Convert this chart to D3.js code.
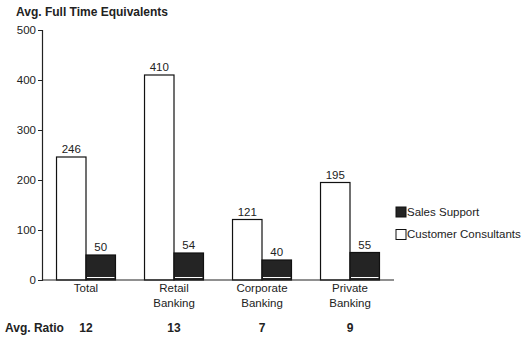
<!DOCTYPE html>
<html><head><meta charset="utf-8">
<script src="https://cdn.jsdelivr.net/npm/d3@7"></script>
<style>body{margin:0;background:#fff}svg{display:block;font-family:"Liberation Sans",Arial,sans-serif}</style>
</head><body>
<svg id="c" width="522" height="339"></svg>
<script>
const categories = [["Total"], ["Retail", "Banking"], ["Corporate", "Banking"], ["Private", "Banking"]];
const customerConsultants = [246, 410, 121, 195];
const salesSupport = [50, 54, 40, 55];
const avgRatio = [12, 13, 7, 9];
const yTicks = [0, 100, 200, 300, 400, 500];
const seriesNames = ["Sales Support", "Customer Consultants"];

const svg = d3.select("#c");
const keys = categories.map(c => c.join(" "));
const x = d3.scaleBand().domain(keys).range([42, 394]).paddingInner(0.33).paddingOuter(0.165);
const y = d3.scaleLinear().domain([0, 500]).range([280, 30]);
const bw = x.bandwidth() / 2;

svg.append("text").attr("x", 16).attr("y", 16).attr("font-size", 12).attr("font-weight", "bold").attr("fill", "#222").text("Avg. Full Time Equivalents");

// y axis
const ya = svg.append("g").attr("transform", "translate(42,0)")
  .call(d3.axisLeft(y).tickValues(yTicks).tickSize(4).tickPadding(2));
ya.select(".domain").attr("stroke", "#222").attr("stroke-width", 1.2);
ya.selectAll("text").attr("font-size", 11.5).attr("fill", "#222").attr("font-family", "Liberation Sans, Arial, sans-serif");
ya.selectAll("line").attr("stroke", "#222");

const g = svg.append("g");
keys.forEach((k, i) => {
  const x0 = x(k);
  g.append("rect").attr("x", x0).attr("y", y(customerConsultants[i])).attr("width", bw).attr("height", y(0) - y(customerConsultants[i]))
    .attr("fill", "#fff").attr("stroke", "#111").attr("stroke-width", 1.2);
  g.append("rect").attr("x", x0 + bw).attr("y", y(salesSupport[i])).attr("width", bw).attr("height", y(0) - y(salesSupport[i]))
    .attr("fill", "#242424").attr("stroke", "#111").attr("stroke-width", 1.2);
  g.append("line").attr("x1", x0 + bw + 1).attr("x2", x0 + 2 * bw - 1).attr("y1", y(0) - 2.5).attr("y2", y(0) - 2.5)
    .attr("stroke", "#fff").attr("stroke-width", 1);
  g.append("text").attr("x", x0 + bw / 2).attr("y", y(customerConsultants[i]) - 4).attr("text-anchor", "middle")
    .attr("font-size", 11.5).attr("fill", "#222").text(customerConsultants[i]);
  g.append("text").attr("x", x0 + bw * 1.5).attr("y", y(salesSupport[i]) - 4).attr("text-anchor", "middle")
    .attr("font-size", 11.5).attr("fill", "#222").text(salesSupport[i]);
  const t = g.append("text").attr("text-anchor", "middle").attr("font-size", 11.5).attr("fill", "#222");
  categories[i].forEach((line, j) => t.append("tspan").attr("x", x0 + bw).attr("y", 292 + j * 15).text(line));
  g.append("text").attr("x", x0 + bw).attr("y", 332).attr("text-anchor", "middle").attr("font-size", 12)
    .attr("font-weight", "bold").attr("fill", "#222").text(avgRatio[i]);
});
svg.append("line").attr("x1", 42).attr("x2", 394).attr("y1", y(0)).attr("y2", y(0)).attr("stroke", "#222").attr("stroke-width", 1.2);

svg.append("text").attr("x", 5).attr("y", 332).attr("font-size", 12).attr("font-weight", "bold").attr("fill", "#222").text("Avg. Ratio");

// legend
const fills = ["#242424", "#fff"];
seriesNames.forEach((n, i) => {
  const ly = 207 + i * 22.5;
  svg.append("rect").attr("x", 396).attr("y", ly).attr("width", 10).attr("height", 10)
    .attr("fill", fills[i]).attr("stroke", "#111").attr("stroke-width", 1);
  svg.append("text").attr("x", 407).attr("y", ly + 8.5).attr("font-size", 11.5).attr("fill", "#222").text(n);
});
</script>
</body></html>
